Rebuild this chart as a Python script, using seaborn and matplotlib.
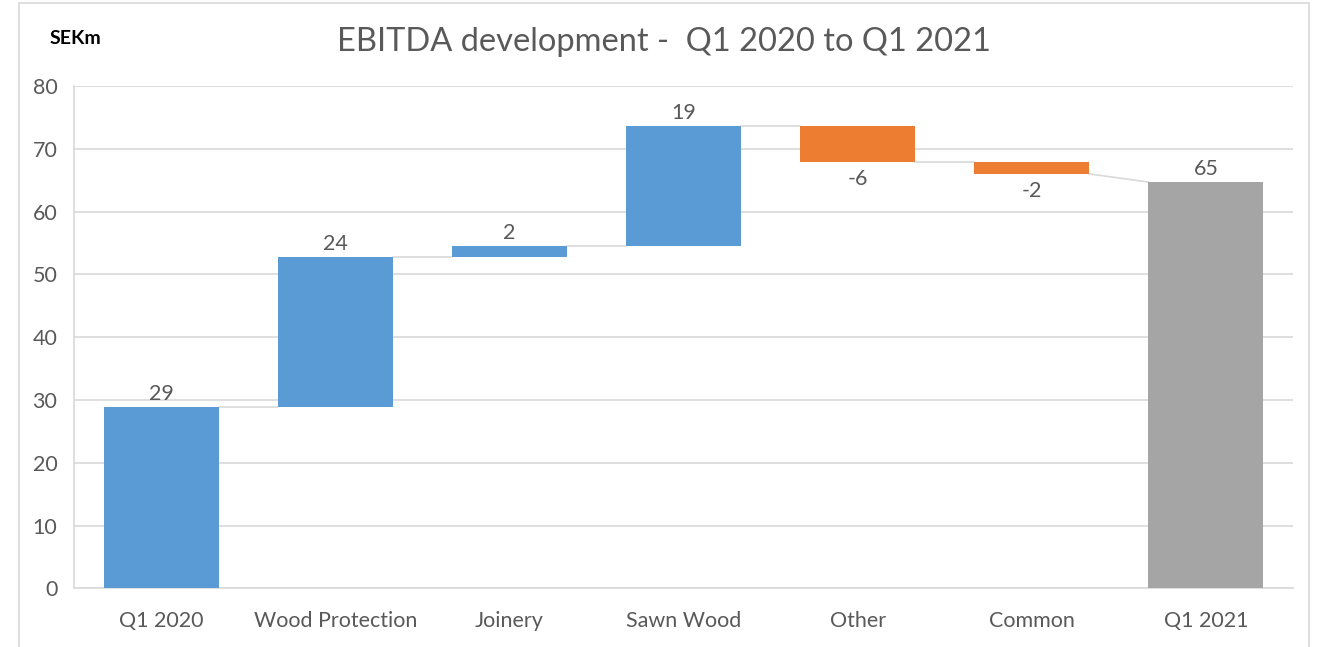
import matplotlib
matplotlib.use("Agg")
import matplotlib.pyplot as plt
import seaborn as sns
import pandas as pd
import numpy as np
from matplotlib.patches import Rectangle

categories = ["Q1 2020", "Wood Protection", "Joinery", "Sawn Wood", "Other", "Common", "Q1 2021"]
start_value = 28.9
deltas = [23.9, 1.7, 19.1, -5.7, -1.9]
end_value = 64.7
labels = ["29", "24", "2", "19", "-6", "-2", "65"]

# compute bases and heights
bases = [0.0]
heights = [start_value]
running = start_value
for d in deltas:
    if d >= 0:
        bases.append(running)
        heights.append(d)
    else:
        bases.append(running + d)
        heights.append(-d)
    running += d
bases.append(0.0)
heights.append(end_value)
tops = [b + h for b, h in zip(bases, heights)]

bar_colors = ["#5B9BD5"] + ["#5B9BD5" if d >= 0 else "#ED7D31" for d in deltas] + ["#A5A5A5"]

df = pd.DataFrame({"category": categories, "top": tops})

sns.set_theme(style="white")
plt.rcParams["font.family"] = ["Lato", "DejaVu Sans"]
text_color = "#595959"
grid_color = "#D9D9D9"
fs = 15.5

W, H = 1319, 647
fig = plt.figure(figsize=(W / 100, H / 100), dpi=100)
ax = fig.add_axes([74 / W, 1 - 588.3 / H, (1293 - 74) / W, (588.3 - 86) / H])

bw = 0.66
sns.barplot(data=df, x="category", y="top", hue="category", palette=bar_colors,
            legend=False, width=bw, ax=ax, saturation=1, zorder=3)

for patch, b, h in zip(ax.patches, bases, heights):
    patch.set_y(b)
    patch.set_height(h)
    patch.set_linewidth(0)

# connectors
levels_end = [start_value]
r = start_value
for d in deltas:
    r += d
    levels_end.append(r)
for i in range(len(categories) - 1):
    y0 = levels_end[i]
    if i + 1 == len(categories) - 1:
        y1 = end_value
    else:
        d = deltas[i]
        y1 = bases[i + 1] if d >= 0 else tops[i + 1]
    ax.plot([i + bw / 2, i + 1 - bw / 2], [y0, y1], color=grid_color, lw=1.2, zorder=2)

# data labels
for i, (b, t, lab) in enumerate(zip(bases, tops, labels)):
    if 0 < i < len(categories) - 1 and deltas[i - 1] < 0:
        ax.annotate(lab, (i, b), xytext=(0, -5), textcoords="offset points",
                    ha="center", va="top", fontsize=fs, color=text_color)
    else:
        ax.annotate(lab, (i, t), xytext=(0, 2), textcoords="offset points",
                    ha="center", va="bottom", fontsize=fs, color=text_color)

ax.set_ylim(0, 80)
ax.set_xlim(-0.5, len(categories) - 0.5)
ax.set_yticks(np.arange(0, 81, 10))
ax.yaxis.grid(True, color=grid_color, lw=1.2, zorder=0)
ax.set_axisbelow(True)
ax.set_xlabel("")
ax.set_ylabel("")
for s in ["top", "right"]:
    ax.spines[s].set_visible(False)
for s in ["left", "bottom"]:
    ax.spines[s].set_color(grid_color)
    ax.spines[s].set_linewidth(1.2)
ax.tick_params(axis="both", length=0, labelsize=fs, labelcolor=text_color)
ax.tick_params(axis="y", pad=12)
ax.tick_params(axis="x", pad=16)

fig.text(664 / W, 1 - 42 / H, "EBITDA development -  Q1 2020 to Q1 2021",
         ha="center", va="center", fontsize=23.5, color=text_color)
fig.text(50 / W, 1 - 38 / H, "SEKm", ha="left", va="center", fontsize=14,
         fontweight="bold", color="black")

fig.patches.append(Rectangle((19 / W, -0.05), (1309 - 19) / W, 1.05 - 3 / H,
                             transform=fig.transFigure, fill=False,
                             edgecolor=grid_color, lw=1.2))

fig.savefig("out.png", dpi=100)
